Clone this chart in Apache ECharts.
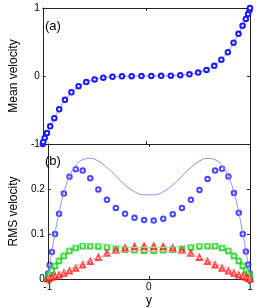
<!DOCTYPE html>
<html><head><meta charset="utf-8">
<script src="https://cdn.jsdelivr.net/npm/echarts@6/dist/echarts.min.js"></script>
<style>html,body{margin:0;padding:0;background:#fff}#c{width:258px;height:308px}</style>
</head><body><div id="c"></div>
<script>
// wall-normal positions of the sample points
var yPts = [-1, -0.9955, -0.9819, -0.9595, -0.9284, -0.8888, -0.8413, -0.7861, -0.7237, -0.6549, -0.5801, -0.5, -0.4154, -0.3271, -0.2358, -0.1423, -0.0476,
  0.0476, 0.1423, 0.2358, 0.3271, 0.4154, 0.5, 0.5801, 0.6549, 0.7237, 0.7861, 0.8413, 0.8888, 0.9284, 0.9595, 0.9819, 0.9955, 1];
// (a) mean velocity
var meanVel = [-1, -0.97, -0.91, -0.84, -0.74, -0.62, -0.49, -0.35, -0.24, -0.15, -0.09, -0.05, -0.025, -0.012, -0.005, -0.002, -0.0005,
  0.0005, 0.002, 0.005, 0.012, 0.025, 0.05, 0.09, 0.15, 0.24, 0.35, 0.49, 0.62, 0.74, 0.84, 0.91, 0.97, 1];
// (b) RMS velocity markers
var rmsU = [0, 0.012, 0.031, 0.06, 0.1, 0.145, 0.19, 0.227, 0.244, 0.241, 0.224, 0.199, 0.176, 0.158, 0.145, 0.136, 0.131,
  0.130, 0.134, 0.144, 0.158, 0.176, 0.198, 0.222, 0.241, 0.245, 0.228, 0.191, 0.147, 0.1, 0.061, 0.032, 0.013, 0];
var rmsV = [0, 0.005, 0.011, 0.019, 0.029, 0.04, 0.051, 0.062, 0.069, 0.073, 0.073, 0.072, 0.07, 0.067, 0.065, 0.064, 0.063,
  0.063, 0.064, 0.065, 0.067, 0.07, 0.072, 0.073, 0.073, 0.069, 0.062, 0.051, 0.04, 0.029, 0.019, 0.011, 0.005, 0];
var rmsW = [0, 0.001, 0.002, 0.004, 0.006, 0.009, 0.013, 0.018, 0.024, 0.031, 0.039, 0.048, 0.057, 0.064, 0.069, 0.072, 0.073,
  0.073, 0.072, 0.069, 0.064, 0.057, 0.048, 0.039, 0.031, 0.024, 0.018, 0.013, 0.009, 0.006, 0.004, 0.002, 0.001, 0];
// (b) reference curves
var lineU = [0, 0.013, 0.033, 0.063, 0.102, 0.148, 0.192, 0.228, 0.252, 0.265, 0.268, 0.262, 0.248, 0.229, 0.209, 0.194, 0.187,
  0.187, 0.194, 0.209, 0.229, 0.248, 0.262, 0.268, 0.265, 0.252, 0.228, 0.192, 0.148, 0.102, 0.063, 0.033, 0.013, 0];
var lineV = [0, 0.006, 0.014, 0.025, 0.037, 0.05, 0.06, 0.068, 0.074, 0.077, 0.078, 0.077, 0.075, 0.073, 0.071, 0.07, 0.07,
  0.07, 0.07, 0.071, 0.073, 0.075, 0.077, 0.078, 0.077, 0.074, 0.068, 0.06, 0.05, 0.037, 0.025, 0.014, 0.006, 0];
var lineW = [0, 0.0005, 0.002, 0.004, 0.007, 0.011, 0.016, 0.022, 0.028, 0.035, 0.042, 0.048, 0.054, 0.058, 0.061, 0.062, 0.062,
  0.062, 0.062, 0.061, 0.058, 0.054, 0.048, 0.042, 0.035, 0.028, 0.022, 0.016, 0.011, 0.007, 0.004, 0.002, 0.0005, 0];
var xTicks = [-1, 0, 1];
var yTicksA = [-1, 0, 1];
var yTicksB = [0, 0.1, 0.2];

function pairs(v){ return yPts.map(function(y,i){ return [y, v[i]]; }); }
var FONT = "'Liberation Sans', Arial, sans-serif";
var axisLine = {show:true, onZero:false, lineStyle:{color:'#222', width:1}};
var tick = {show:true, inside:true, length:3, lineStyle:{color:'#222'}};
function xa(grid, pos, labels, extra){
  var o = {type:'value', gridIndex:grid, position:pos, min:xTicks[0], max:xTicks[2], interval:1,
    axisLine:axisLine, axisTick:tick, splitLine:{show:false},
    axisLabel:{show:labels, color:'#000', fontSize:10, fontFamily:FONT, margin:3}};
  for (var k in extra) o[k]=extra[k];
  return o;
}
function ya(grid, pos, labels, min, max, iv, extra){
  var o = {type:'value', gridIndex:grid, position:pos, min:min, max:max, interval:iv,
    axisLine:axisLine, axisTick:tick, splitLine:{show:false},
    axisLabel:{show:labels, color:'#000', fontSize:10, fontFamily:FONT, margin:3,
      formatter:function(v){ return v>0.25 && v<0.5 ? '' : String(v); }}};
  for (var k in extra) o[k]=extra[k];
  return o;
}
var chart = echarts.init(document.getElementById('c'), null, {renderer:'canvas'});
chart.setOption({
  animation:false,
  backgroundColor:'#fff',
  title:[
    {text:'(a)', left:40, top:15, textStyle:{fontSize:13, fontWeight:'normal', color:'#000', fontFamily:FONT}},
    {text:'(b)', left:40, top:150, textStyle:{fontSize:13, fontWeight:'normal', color:'#000', fontFamily:FONT}}
  ],
  grid:[
    {left:35, right:8, top:8, height:136, show:false},
    {left:35, right:8, top:144, height:136, show:false}
  ],
  xAxis:[
    xa(0,'bottom',false,{}),
    xa(0,'top',false,{}),
    xa(1,'bottom',true,{name:'y', nameLocation:'middle', nameGap:16,
      nameTextStyle:{fontSize:12, color:'#000', fontFamily:FONT}}),
    xa(1,'top',false,{})
  ],
  yAxis:[
    ya(0,'left',true,yTicksA[0],yTicksA[2],1,{name:'Mean velocity', nameLocation:'middle', nameGap:17,
      nameTextStyle:{fontSize:12, color:'#000', fontFamily:FONT}}),
    ya(0,'right',false,-1,1,1,{}),
    ya(1,'left',true,yTicksB[0],0.3,0.1,{name:'RMS velocity', nameLocation:'middle', nameGap:22,
      nameTextStyle:{fontSize:12, color:'#000', fontFamily:FONT}}),
    ya(1,'right',false,0,0.3,0.1,{})
  ],
  series:[
    {type:'line', xAxisIndex:0, yAxisIndex:0, data:pairs(meanVel), symbol:'emptyCircle', symbolSize:4.5,
      itemStyle:{color:'#1a1aff', borderWidth:1}, lineStyle:{color:'#9090ff', width:1}},
    {type:'line', xAxisIndex:2, yAxisIndex:2, data:pairs(lineU), smooth:true, symbol:'none',
      lineStyle:{color:'#8c8cff', width:1}},
    {type:'line', xAxisIndex:2, yAxisIndex:2, data:pairs(lineV), smooth:true, symbol:'none',
      lineStyle:{color:'#88ee88', width:1}},
    {type:'line', xAxisIndex:2, yAxisIndex:2, data:pairs(lineW), smooth:true, symbol:'none',
      lineStyle:{color:'#ff9090', width:1}},
    {type:'scatter', xAxisIndex:2, yAxisIndex:2, data:pairs(rmsU), symbol:'emptyCircle', symbolSize:4.5,
      itemStyle:{color:'#1a1aff', borderWidth:1}},
    {type:'scatter', xAxisIndex:2, yAxisIndex:2, data:pairs(rmsV), symbol:'emptyRect', symbolSize:4.5,
      itemStyle:{color:'#11cc11', borderWidth:1}},
    {type:'scatter', xAxisIndex:2, yAxisIndex:2, data:pairs(rmsW), symbol:'emptyTriangle', symbolSize:5,
      itemStyle:{color:'#ff1a1a', borderWidth:1}}
  ]
});
</script></body></html>
